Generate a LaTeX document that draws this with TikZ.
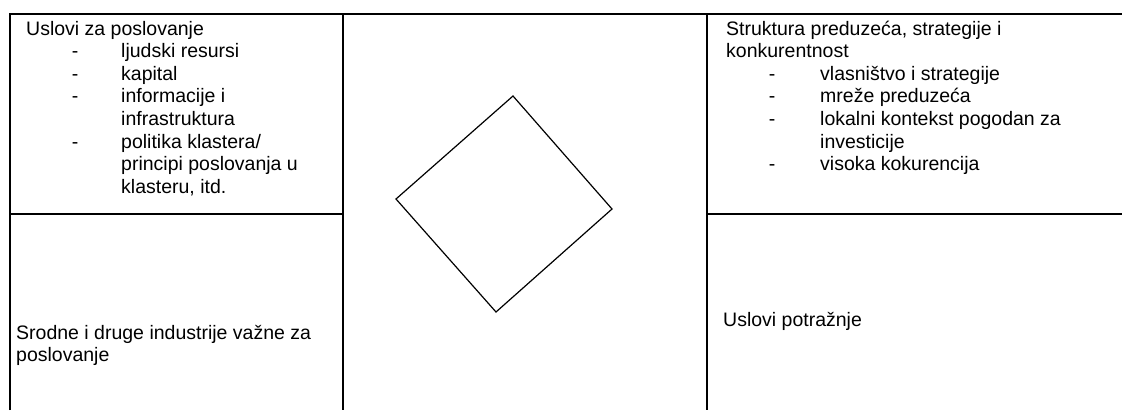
\documentclass[tikz,border=0pt]{standalone}
\usepackage{fontspec}
\setmainfont{Liberation Sans}
\usepackage{tikz}
\usetikzlibrary{positioning, calc}

\tikzset{
  txt/.style={anchor=base west, inner sep=0pt, font=\fontsize{19.5}{22.6}\selectfont},
  frame/.style={line width=1.9pt},
  dia/.style={line width=1.2pt, line join=miter}
}

\begin{document}
\begin{tikzpicture}[x=1pt,y=-1pt]
  \useasboundingbox (0,0) rectangle (1122,410);
  % grid of the four fields
  \draw[frame] (10,410) -- (10,14) -- (1122,14);
  \draw[frame] (343,14) -- (343,410);
  \draw[frame] (707,14) -- (707,410);
  \draw[frame] (10,214) -- (343,214);
  \draw[frame] (707,214) -- (1122,214);
  % diamond in the middle
  \coordinate (dt) at (513,96);
  \coordinate (dl) at (396,199);
  \coordinate (db) at (496,312);
  \coordinate (dr) at (612,209);
  \draw[dia] (dt) -- (dl) -- (db) -- (dr) -- cycle;
  % top left
  \node[txt] (uslovi) at (26,35) {Uslovi za poslovanje};
  \foreach \y/\d/\t [count=\i] in {57.6/-/ljudski resursi, 80.2/-/kapital,
      102.8/-/informacije i, 125.4//infrastruktura, 148/-/{politika klastera/},
      170.6//principi poslovanja u, 193.2//{klasteru, itd.}}
    {\node[txt] (ul\i) at (121,\y) {\t};
     \node[txt,anchor=base] (ud\i) at (75,\y) {\d};}
  % top right
  \node[txt] (struktura) at (726,35) {Struktura preduzeća, strategije i};
  \node[txt] (konk) at (726,57.6) {konkurentnost};
  \foreach \y/\d/\t [count=\i] in {80.2/-/vlasništvo i strategije,
      102.8/-/mreže preduzeća, 125.4/-/lokalni kontekst pogodan za,
      148//investicije, 170.6/-/visoka kokurencija}
    {\node[txt] (sl\i) at (820,\y) {\t};
     \node[txt,anchor=base] (sd\i) at (772,\y) {\d};}
  % bottom
  \node[txt] (srodne) at (16,339) {Srodne i druge industrije važne za};
  \node[txt] (srodne2) at (16,361.6) {poslovanje};
  \node[txt] (potraznja) at (723,326) {Uslovi potražnje};
\end{tikzpicture}
\end{document}
